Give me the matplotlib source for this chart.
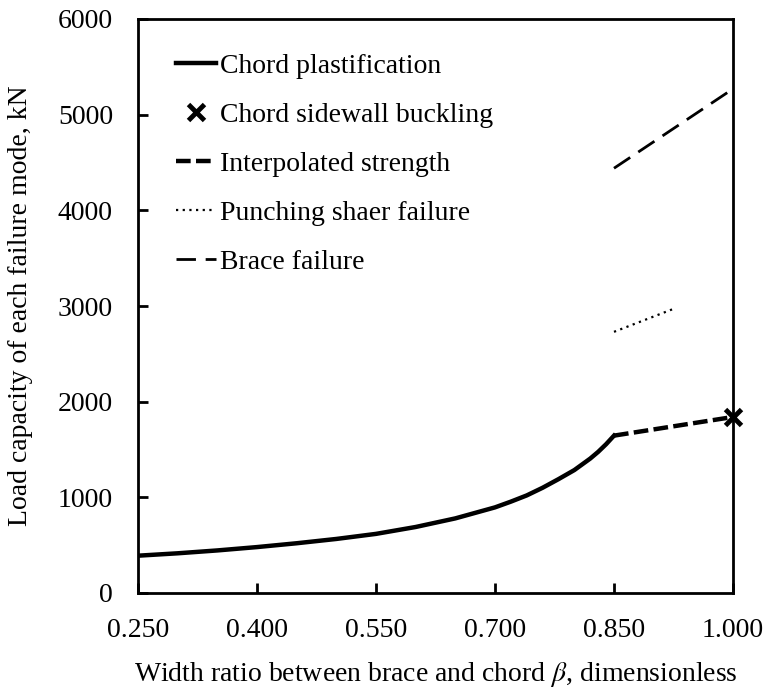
import matplotlib
matplotlib.use("Agg")
import matplotlib.pyplot as plt
import numpy as np

# values
beta_plast = [0.25, 0.30, 0.35, 0.40, 0.45, 0.50, 0.55, 0.60, 0.65, 0.70,
              0.72, 0.74, 0.76, 0.78, 0.80, 0.81, 0.82, 0.83, 0.84, 0.85]
load_plast = [390, 415, 445, 480, 520, 565, 618, 690, 780, 895,
              955, 1020, 1100, 1190, 1285, 1345, 1405, 1475, 1555, 1645]

beta_interp = [0.85, 1.0]
load_interp = [1645, 1840]

beta_buckling = [1.0]
load_buckling = [1840]

beta_punch = [0.85, 0.925]
load_punch = [2730, 2970]

beta_brace = [0.85, 1.0]
load_brace = [4440, 5270]

x_ticks = [0.25, 0.40, 0.55, 0.70, 0.85, 1.00]
y_ticks = [0, 1000, 2000, 3000, 4000, 5000, 6000]

plt.rcParams['font.family'] = ['Liberation Serif', 'DejaVu Serif']
plt.rcParams['mathtext.fontset'] = 'stix'

fig = plt.figure(figsize=(7.66, 6.91), dpi=100)
ax = fig.add_axes([138 / 766, 98 / 691, 595 / 766, 574 / 691])

ax.plot(beta_plast, load_plast, color='black', lw=3.2, label='Chord plastification')
ax.plot(beta_buckling, load_buckling, linestyle='none', marker='x', color='black',
        ms=12, mew=3.5, label='Chord sidewall buckling', clip_on=False, zorder=5)
ax.plot(beta_interp, load_interp, color='black', lw=3.2, dashes=(3.3, 1.2),
        label='Interpolated strength')
ax.plot(beta_punch, load_punch, color='black', lw=1.6, dashes=(1, 2),
        label='Punching shaer failure')
ax.plot(beta_brace, load_brace, color='black', lw=2.0, dashes=(7, 3.5),
        label='Brace failure')

ax.set_xlim(0.25, 1.0)
ax.set_ylim(0, 6000)
ax.set_xticks(x_ticks)
ax.set_xticklabels(['%.3f' % v for v in x_ticks])
ax.set_yticks(y_ticks)
ax.set_yticklabels([str(v) for v in y_ticks])

for s in ax.spines.values():
    s.set_linewidth(2.0)
ax.tick_params(axis='both', direction='in', length=7, width=2.0, labelsize=20)
ax.tick_params(axis='x', pad=18)
ax.tick_params(axis='y', pad=18)

ax.set_xlabel(r'Width ratio between brace and chord $\beta$, dimensionless',
              fontsize=20, labelpad=12)
ax.set_ylabel('Load capacity of each failure mode, kN', fontsize=20, labelpad=18)

ax.legend(loc='upper left', frameon=False, fontsize=20, handlelength=1.45,
          handletextpad=0.15, labelspacing=0.85, borderaxespad=0.0,
          bbox_to_anchor=(0.045, 0.96))

fig.savefig('out.png', dpi=100)
